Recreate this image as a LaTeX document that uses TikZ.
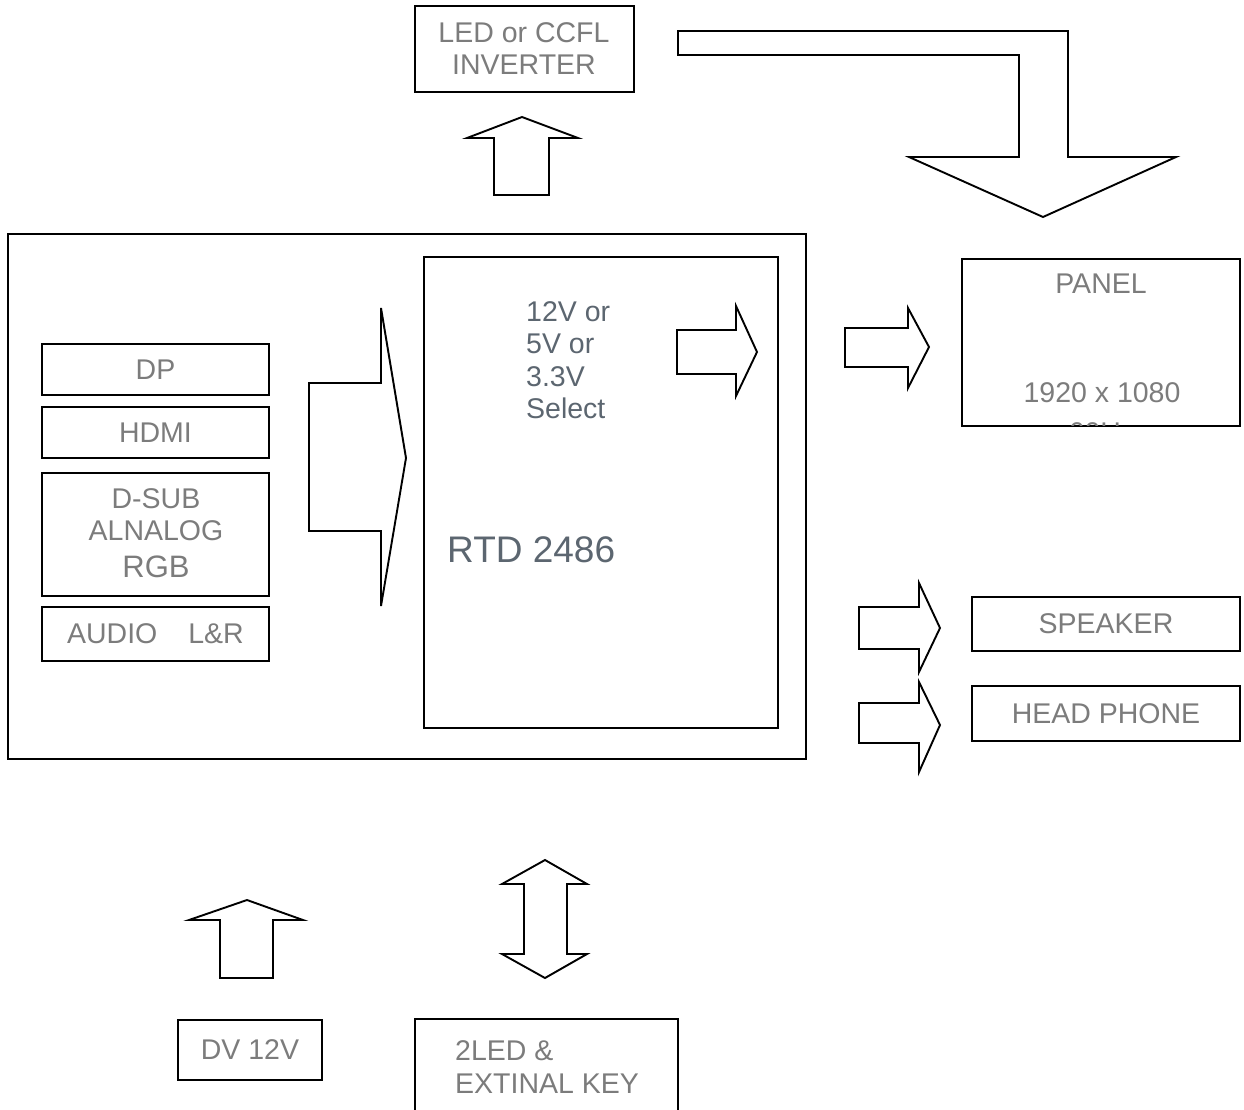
\documentclass[tikz,border=0pt]{standalone}
\usepackage{fontspec}
\setmainfont{Liberation Sans}
\definecolor{txt}{HTML}{7C7C7C}
\definecolor{chip}{HTML}{5C6670}
\newcommand{\myfs}{\fontsize{28.5}{32}\selectfont}
\begin{document}
\begin{tikzpicture}[x=1pt,y=-1pt,
  box/.style={draw, line width=1.8pt, inner sep=0pt, text=txt, font=\myfs},
  lbl/.style={inner sep=0pt, text=txt, font=\myfs},
  blk/.style={draw, line width=1.9pt, fill=white, line join=miter}]
\useasboundingbox (0,0) rectangle (1244,1109);
\clip (0,0) rectangle (1244,1109);

% main boxes
\node[box, minimum width=798, minimum height=525] (main) at (407,496.5) {};
\node[box, minimum width=354, minimum height=471] (rtd) at (601,492.5) {};

% inverter
\node[box, minimum width=219, minimum height=86] (inv) at (524.5,49) {};
\node[lbl, anchor=base] (inv1) at (524,42) {LED or CCFL};
\node[lbl, anchor=base] (inv2) at (524,74) {INVERTER};

% input boxes
\node[box, minimum width=227, minimum height=51] (dp) at (155.5,369.5) {DP};
\node[box, minimum width=227, minimum height=51] (hdmi) at (155.5,432.5) {HDMI};
\node[box, minimum width=227, minimum height=123] (dsub) at (155.5,534.5) {};
\node[lbl, anchor=base] (dsub1) at (156,508) {D-SUB};
\node[lbl, anchor=base] (dsub2) at (156,540) {ALNALOG};
\node[lbl, anchor=base, font=\fontsize{31}{34}\selectfont] (dsub3) at (156,577) {RGB};
\node[box, minimum width=227, minimum height=54] (audio) at (155.5,634) {AUDIO\hspace{31pt}L\&R};

% RTD texts
\node[lbl, anchor=base west, text=chip] (v1) at (526,321) {12V or};
\node[lbl, anchor=base west, text=chip] (v2) at (526,353) {5V or};
\node[lbl, anchor=base west, text=chip] (v3) at (526,386) {3.3V};
\node[lbl, anchor=base west, text=chip] (v4) at (526,418) {Select};
\node[lbl, anchor=base west, text=chip, font=\fontsize{37}{40}\selectfont] (chipname) at (447,562) {RTD 2486};

% panel
\node[box, minimum width=278, minimum height=167] (panel) at (1101,342.5) {};
\node[lbl, anchor=base] (pan1) at (1101,293) {PANEL};
\node[lbl, anchor=base] (pan2) at (1102,402) {1920 x 1080};
\begin{scope}
  \clip (963,259) rectangle (1239,425);
  \node[lbl, anchor=base] (pan3) at (1102,442) {60Hz};
\end{scope}

% audio outputs
\node[box, minimum width=268, minimum height=54] (spk) at (1106,624) {SPEAKER};
\node[box, minimum width=268, minimum height=55] (hp) at (1106,713.5) {HEAD PHONE};

% bottom boxes
\node[box, minimum width=144, minimum height=60] (dv) at (250,1050) {DV 12V};
\node[box, minimum width=263, minimum height=140] (key) at (546.5,1089) {};
\node[lbl, anchor=base west] (key1) at (455,1060) {2LED \&};
\node[lbl, anchor=base west] (key2) at (455,1093) {EXTINAL KEY};

% block arrows
\draw[blk] (494,195) -- (494,138) -- (467,138) -- (522,117) -- (578,138) -- (549,138) -- (549,195) -- cycle;
\draw[blk] (678,31) -- (1068,31) -- (1068,157) -- (1176,157) -- (1043,217) -- (909,157) -- (1019,157) -- (1019,55) -- (678,55) -- cycle;
\draw[blk] (309,383) -- (381,383) -- (381,308) -- (406,458) -- (381,606) -- (381,531) -- (309,531) -- cycle;
\draw[blk] (677,330) -- (736,330) -- (736,306) -- (757,352) -- (736,396) -- (736,374) -- (677,374) -- cycle;
\draw[blk] (845,328) -- (908,328) -- (908,308) -- (929,347) -- (908,388) -- (908,367) -- (845,367) -- cycle;
\draw[blk] (859,607) -- (919,607) -- (919,583) -- (940,628) -- (919,672) -- (919,649) -- (859,649) -- cycle;
\draw[blk] (859,703) -- (919,703) -- (919,682) -- (940,725) -- (919,772) -- (919,743) -- (859,743) -- cycle;
\draw[blk] (220,978) -- (220,920) -- (189,920) -- (247,900) -- (303,920) -- (273,920) -- (273,978) -- cycle;
\draw[blk] (545,860) -- (587,884) -- (567,884) -- (567,954) -- (587,954) -- (545,978) -- (502,954) -- (524,954) -- (524,884) -- (502,884) -- cycle;
\end{tikzpicture}
\end{document}
